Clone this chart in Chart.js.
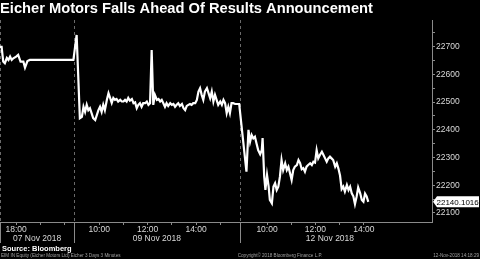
<!DOCTYPE html>
<html>
<head>
<meta charset="utf-8">
<script src="https://cdn.jsdelivr.net/npm/chart.js@4"></script>
<style>
    body { margin: 0; background: #000; }
    canvas { display: block; }
</style>
</head>
<body>
<canvas id="graficoEicher" width="480" height="259"></canvas>
<script>
// Dados do grafico (3 pregoes, barras de 3 minutos)
const dias = ['07 Nov 2018', '09 Nov 2018', '12 Nov 2018'];

const horas07 = ['17:20', '17:24', '17:28', '17:32', '17:37', '17:41', '17:45', '17:49', '17:53', '18:00',
    '18:05', '18:11', '18:18', '18:22', '18:28', '18:34', '20:22'];
const precos07 = [22699, 22699, 22646, 22640, 22659, 22652, 22664, 22652, 22658, 22664,
    22670, 22646, 22646, 22624, 22648, 22652, 22652];

const horas09 = ['09:04', '09:12', '09:17', '09:21', '09:25', '09:29', '09:33', '09:37', '09:41', '09:45',
    '09:50', '09:54', '09:58', '10:02', '10:06', '10:10', '10:14', '10:19', '10:23', '10:27',
    '10:31', '10:35', '10:39', '10:43', '10:47', '10:52', '10:56', '11:00', '11:04', '11:08',
    '11:12', '11:16', '11:21', '11:25', '11:29', '11:33', '11:37', '11:41', '11:45', '11:49',
    '11:54', '11:58', '12:02', '12:06', '12:10', '12:14', '12:18', '12:23', '12:27', '12:31',
    '12:35', '12:39', '12:43', '12:47', '12:51', '12:56', '13:00', '13:04', '13:08', '13:12',
    '13:16', '13:20', '13:25', '13:29', '13:33', '13:37', '13:41', '13:45', '13:49', '13:53',
    '13:58', '14:02', '14:06', '14:10', '14:14', '14:18', '14:22', '14:27', '14:31', '14:35',
    '14:39', '14:43', '14:47', '14:51', '14:55', '15:00', '15:04', '15:08', '15:12', '15:16',
    '15:20', '15:24', '15:28', '15:32', '15:37', '15:42', '15:47'];
const precos09 = [22742, 22442, 22447, 22483, 22465, 22490, 22471, 22478, 22460, 22442,
    22435, 22453, 22471, 22483, 22465, 22490, 22471, 22508, 22532, 22515,
    22497, 22515, 22508, 22511, 22502, 22508, 22502, 22502, 22508, 22502,
    22515, 22505, 22511, 22496, 22499, 22478, 22490, 22496, 22483, 22496,
    22496, 22502, 22490, 22496, 22688, 22490, 22526, 22508, 22511, 22502,
    22508, 22496, 22483, 22496, 22486, 22496, 22490, 22493, 22483, 22490,
    22496, 22486, 22493, 22478, 22471, 22486, 22490, 22493, 22490, 22496,
    22496, 22508, 22538, 22550, 22526, 22508, 22538, 22550, 22532, 22514,
    22538, 22502, 22526, 22508, 22490, 22502, 22490, 22508, 22496, 22460,
    22483, 22460, 22496, 22496, 22493, 22493, 22493];

const horas12 = ['09:09', '09:14', '09:18', '09:22', '09:26', '09:30', '09:34', '09:38', '09:43', '09:47',
    '09:49', '09:53', '09:56', '10:00', '10:04', '10:07', '10:12', '10:16', '10:20', '10:24',
    '10:28', '10:32', '10:36', '10:40', '10:45', '10:49', '10:53', '10:57', '11:01', '11:05',
    '11:09', '11:14', '11:18', '11:22', '11:26', '11:30', '11:34', '11:38', '11:42', '11:47',
    '11:51', '11:55', '11:59', '12:03', '12:07', '12:11', '12:16', '12:20', '12:24', '12:28',
    '12:32', '12:36', '12:40', '12:44', '12:49', '12:53', '12:57', '13:01', '13:05', '13:09',
    '13:13', '13:18', '13:22', '13:26', '13:30', '13:34', '13:38', '13:42', '13:46', '13:51',
    '13:55', '13:59', '14:03', '14:07', '14:11'];
const precos12 = [22249, 22400, 22357, 22381, 22369, 22375, 22351, 22327, 22312, 22327,
    22370, 22231, 22183, 22237, 22195, 22147, 22135, 22195, 22207, 22183,
    22195, 22231, 22291, 22255, 22279, 22255, 22267, 22243, 22219, 22255,
    22267, 22273, 22291, 22280, 22258, 22262, 22249, 22267, 22273, 22279,
    22273, 22285, 22282, 22327, 22297, 22309, 22321, 22309, 22297, 22285,
    22297, 22303, 22297, 22291, 22267, 22279, 22260, 22235, 22186, 22195,
    22177, 22201, 22183, 22195, 22171, 22160, 22132, 22158, 22192, 22171,
    22147, 22141, 22170, 22160, 22140.1016];

// marcas de hora no eixo x e quais recebem rotulo
const marcas07 = ['18:00', '19:00', '20:00'];
const marcas09 = ['10:00', '11:00', '12:00', '13:00', '14:00', '15:00'];
const marcas12 = ['10:00', '11:00', '12:00', '13:00', '14:00'];
const rotulosHora = ['18:00', '10:00', '12:00', '14:00'];

// eixo comprimido: minutos do dia + deslocamento de cada pregao
const deslocamentos = [-1040, -354, 62];
const divisorias = [0, 183.5, 595];
const centrosDias = [92, 389, 818];

function minutos(h) {
    const partes = h.split(':').map(Number);
    return partes[0] * 60 + partes[1];
}

document.addEventListener('DOMContentLoaded', function () {
    const ctx = document.getElementById('graficoEicher').getContext('2d');

    // monta os pontos da serie unica
    const pontos = [];
    [[horas07, precos07], [horas09, precos09], [horas12, precos12]].forEach(function (par, d) {
        par[0].forEach(function (h, i) {
            pontos.push({ x: minutos(h) + deslocamentos[d], y: par[1][i] });
        });
    });

    const marcasX = [];
    [marcas07, marcas09, marcas12].forEach(function (lista, d) {
        lista.forEach(function (h) {
            marcasX.push({ value: minutos(h) + deslocamentos[d], label: rotulosHora.includes(h) ? h : '' });
        });
    });

    const corEixo = '#8a8a8a';
    const corTexto = '#d8d8d8';

    // linhas divisorias, datas, ultimo valor e rodape
    const extras = {
        id: 'extras',
        beforeDatasetsDraw(chart) {
            const c = chart.ctx;
            const area = chart.chartArea;
            const sx = chart.scales.x;
            c.save();
            c.strokeStyle = '#6a6a6a';
            c.lineWidth = 1;
            divisorias.forEach(function (v) {
                const px = Math.round(sx.getPixelForValue(v)) + 0.5;
                c.setLineDash([3, 3]);
                c.beginPath();
                c.moveTo(px, area.top);
                c.lineTo(px, area.bottom);
                c.stroke();
                c.setLineDash([]);
                c.strokeStyle = corEixo;
                c.beginPath();
                c.moveTo(px, area.bottom);
                c.lineTo(px, area.bottom + 21);
                c.stroke();
                c.strokeStyle = '#6a6a6a';
            });
            c.restore();
        },
        afterDraw(chart) {
            const c = chart.ctx;
            const area = chart.chartArea;
            const sx = chart.scales.x;
            const sy = chart.scales.y;
            c.save();
            // datas
            c.fillStyle = corTexto;
            c.font = '8.5px "Liberation Sans", Arial, sans-serif';
            c.textAlign = 'center';
            c.textBaseline = 'middle';
            dias.forEach(function (d, i) {
                c.fillText(d, sx.getPixelForValue(centrosDias[i]), 238.5);
            });

            // etiqueta do ultimo valor
            const ultimo = pontos[pontos.length - 1].y;
            const py = sy.getPixelForValue(ultimo);
            c.fillStyle = '#fff';
            c.beginPath();
            c.moveTo(area.right + 1, py);
            c.lineTo(area.right + 5, py - 5.5);
            c.lineTo(479, py - 5.5);
            c.lineTo(479, py + 5.5);
            c.lineTo(area.right + 5, py + 5.5);
            c.closePath();
            c.fill();
            c.fillStyle = '#000';
            c.font = '8px "Liberation Sans", Arial, sans-serif';
            c.textAlign = 'left';
            c.fillText(ultimo.toFixed(4), area.right + 4.5, py + 0.5);

            // fonte
            c.fillStyle = '#fff';
            c.font = 'bold 7.5px "Liberation Sans", Arial, sans-serif';
            c.fillText('Source: Bloomberg', 2, 248.5);

            // rodape
            c.fillStyle = '#a0a0a0';
            c.font = '4.6px "Liberation Sans", Arial, sans-serif';
            c.fillText('EIM IN Equity (Eicher Motors Ltd) Eicher 3 Days 3 Minutes', 1, 256);
            c.textAlign = 'center';
            c.fillText('Copyright\u00a9 2018 Bloomberg Finance L.P.', 280, 256);
            c.textAlign = 'right';
            c.fillText('12-Nov-2018 14:18:29', 479, 256);
            c.restore();
        }
    };

    new Chart(ctx, {
        type: 'line',
        data: {
            datasets: [{
                label: 'EIM IN Equity',
                data: pontos,
                borderColor: '#ffffff',
                borderWidth: 2.2,
                pointRadius: 0,
                tension: 0,
                fill: false
            }]
        },
        options: {
            responsive: false,
            animation: false,
            layout: { padding: 0 },
            plugins: {
                legend: { display: false },
                tooltip: { enabled: false },
                title: {
                    display: true,
                    text: 'Eicher Motors Falls Ahead Of Results Announcement',
                    color: '#ffffff',
                    align: 'start',
                    font: { family: '"Liberation Sans", Arial, sans-serif', size: 14.7, weight: 'bold', lineHeight: 1.15 },
                    padding: { top: 0, bottom: 3.1 }
                }
            },
            scales: {
                x: {
                    type: 'linear',
                    min: 0,
                    max: 1071,
                    afterFit(scale) { scale.height = 37; },
                    afterBuildTicks(scale) { scale.ticks = marcasX.map(function (m) { return { value: m.value }; }); },
                    grid: { drawOnChartArea: false, drawTicks: true, tickLength: 3, color: corEixo },
                    border: { display: true, color: corEixo },
                    ticks: {
                        color: corTexto,
                        autoSkip: false,
                        maxRotation: 0,
                        padding: 0,
                        font: { family: '"Liberation Sans", Arial, sans-serif', size: 8.5 },
                        callback: function (value) {
                            const m = marcasX.find(function (t) { return t.value === value; });
                            return m ? m.label : '';
                        }
                    }
                },
                y: {
                    position: 'right',
                    min: 22067.5,
                    max: 22796,
                    afterFit(scale) { scale.width = 48; },
                    grid: { drawOnChartArea: false, drawTicks: true, tickLength: 3, color: corEixo },
                    border: { display: true, color: corEixo },
                    ticks: {
                        stepSize: 50,
                        includeBounds: false,
                        color: corTexto,
                        padding: 1,
                        font: { family: '"Liberation Sans", Arial, sans-serif', size: 8.5 },
                        callback: function (value) {
                            return value % 100 === 0 ? String(value) : '';
                        }
                    }
                }
            }
        },
        plugins: [extras]
    });
});
</script>
</body>
</html>
